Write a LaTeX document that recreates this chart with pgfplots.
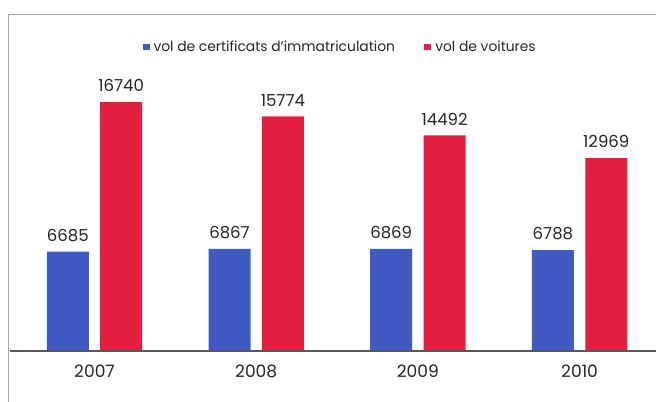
\documentclass[border=0pt]{standalone}
\usepackage{pgfplots}
\pgfplotsset{compat=1.18}
\usepackage{fontspec}
\setmainfont{Poppins}
\definecolor{cblue}{RGB}{64,90,196}
\definecolor{cred}{RGB}{228,32,64}
\definecolor{frame}{RGB}{165,165,165}
\begin{document}
\begin{tikzpicture}[x=0.75pt,y=0.75pt]
\useasboundingbox (0,0) rectangle (656,402);
\begin{axis}[
  at={(70.875pt,38.25pt)}, anchor=origin,
  scale only axis, width=484.5pt, height=252.75pt,
  xmin=-0.5226, xmax=3.4725, ymin=0, ymax=22655,
  axis line style={draw=none}, ytick=\empty,
  xtick={0,1,2,3}, xticklabels={2007,2008,2009,2010},
  major tick length=0pt,
  xticklabel style={font=\fontsize{12.8}{14}\selectfont, yshift=-7pt, text=black!85},
  ybar, bar width=31.5pt,
  clip=false,
  /pgf/number format/.cd, 1000 sep={}, assume math mode=true, /pgfplots/.cd,
  nodes near coords,
  nodes near coords style={font=\fontsize{12.4}{14}\selectfont, text=black!85, yshift=4pt},
  legend columns=2,
  legend style={at={(0.5116,0.902)}, anchor=center, draw=none, fill=none,
    font=\fontsize{10.4}{12}\selectfont, text=black!85,
    /tikz/every odd column/.append style={column sep=1pt},
    /tikz/every even column/.append style={column sep=20pt}},
  legend image code/.code={\fill[#1] (0pt,-2.6pt) rectangle (5.2pt,2.6pt);},
]
\addplot[fill=cblue, draw=none, bar shift=-20pt] coordinates {(0,6685) (1,6867) (2,6869) (3,6788)};
\addplot[fill=cred, draw=none, bar shift=20pt] coordinates {(0,16740) (1,15774) (2,14492) (3,12969)};
\legend{vol de certificats d'immatriculation, vol de voitures}
\draw[black!65, line width=0.9pt] (rel axis cs:0,0) -- (rel axis cs:1,0);
\draw[frame, line width=0.7pt] (rel axis cs:1,1) -- (rel axis cs:-0.0031,1) -- (rel axis cs:-0.0031,-0.151);
\end{axis}
\end{tikzpicture}
\end{document}
